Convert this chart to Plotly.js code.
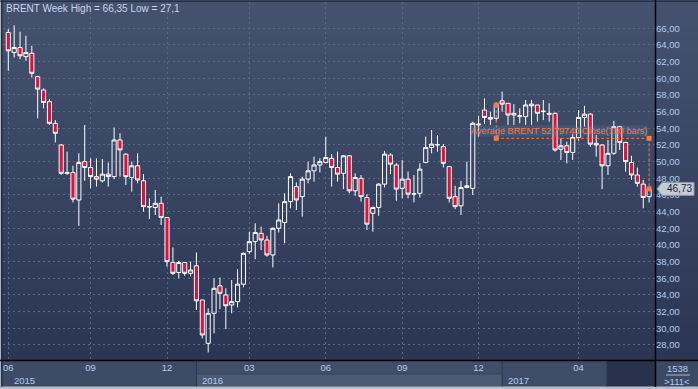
<!DOCTYPE html>
<html>
<head>
<meta charset="utf-8">
<script src="https://cdn.plot.ly/plotly-3.0.1.min.js"></script>
<style>
html,body{margin:0;padding:0;background:#2b3654;}
#chart{width:698px;height:389px;}
</style>
</head>
<body>
<div id="chart"></div>
<script>
// ---------------- DATA ----------------
const dates = [
 '2015-06-01','2015-06-08','2015-06-15','2015-06-22','2015-06-29','2015-07-06','2015-07-13','2015-07-20','2015-07-27','2015-08-03',
 '2015-08-10','2015-08-17','2015-08-24','2015-08-31','2015-09-07','2015-09-14','2015-09-21','2015-09-28','2015-10-05','2015-10-12',
 '2015-10-19','2015-10-26','2015-11-02','2015-11-09','2015-11-16','2015-11-23','2015-11-30','2015-12-07','2015-12-14','2015-12-21',
 '2015-12-28','2015-12-31','2016-01-04','2016-01-11','2016-01-18','2016-01-25','2016-02-01','2016-02-08','2016-02-15','2016-02-22',
 '2016-02-29','2016-03-07','2016-03-14','2016-03-21','2016-03-28','2016-04-04','2016-04-11','2016-04-18','2016-04-25','2016-05-02',
 '2016-05-09','2016-05-16','2016-05-23','2016-05-30','2016-06-06','2016-06-13','2016-06-20','2016-06-27','2016-07-04','2016-07-11',
 '2016-07-18','2016-07-25','2016-08-01','2016-08-08','2016-08-15','2016-08-22','2016-08-29','2016-09-05','2016-09-12','2016-09-19',
 '2016-09-26','2016-10-03','2016-10-10','2016-10-17','2016-10-24','2016-10-31','2016-11-07','2016-11-14','2016-11-21','2016-11-28',
 '2016-12-05','2016-12-12','2016-12-19','2016-12-26','2017-01-02','2017-01-09','2017-01-16','2017-01-23','2017-01-30','2017-02-06',
 '2017-02-13','2017-02-20','2017-02-27','2017-03-06','2017-03-13','2017-03-20','2017-03-27','2017-04-03','2017-04-10','2017-04-17',
 '2017-04-24','2017-05-01','2017-05-08','2017-05-15','2017-05-22','2017-05-29','2017-06-05','2017-06-12','2017-06-19','2017-06-26'
];
const open = [
 65.5,63.1,63.7,62.6,63.0,60.2,58.6,57.2,54.6,52.0,
 48.6,48.7,45.4,50.0,49.3,48.2,47.7,48.5,48.2,52.6,
 50.9,48.1,49.5,47.7,44.55,44.5,45.0,43.3,37.9,36.7,
 37.9,36.6,37.5,33.4,28.2,31.8,35.1,34.0,32.8,33.2,
 35.3,39.2,40.4,41.4,40.6,38.8,42.0,42.7,45.2,47.0,
 45.8,47.9,48.9,49.6,49.9,50.4,49.3,48.6,50.7,46.5,
 48.0,45.7,43.8,44.5,47.3,50.8,49.6,46.8,47.9,46.1,
 46.2,49.9,51.7,52.0,51.8,49.4,45.8,44.7,46.9,46.8,
 54.4,56.2,55.3,55.2,57.3,57.0,55.6,55.4,55.4,56.9,
 56.8,56.0,55.8,55.8,51.5,51.9,51.1,52.9,55.3,55.7,
 52.2,52.0,49.5,51.0,54.2,52.3,49.9,48.4,47.3,45.8
];
const high = [
 65.9,66.35,65.6,65.1,63.9,60.3,58.8,57.5,55.0,52.1,
 51.2,49.5,51.0,54.4,50.4,50.4,50.3,49.9,54.1,53.4,
 51.0,50.0,51.0,48.5,45.6,46.6,45.8,43.3,39.7,38.1,
 37.9,38.0,39.1,33.4,32.4,36.0,36.1,34.8,35.8,37.1,
 39.1,41.6,42.6,42.2,41.1,42.1,45.0,46.2,48.6,47.5,
 48.2,50.0,50.6,50.4,53.0,50.9,51.2,50.8,50.8,48.6,
 48.4,46.1,44.6,47.4,51.3,51.0,49.8,50.2,48.8,48.4,
 49.8,53.0,53.8,53.2,52.1,49.5,47.1,47.7,50.0,54.8,
 55.5,57.6,56.0,57.1,58.4,57.0,56.9,56.4,57.4,57.4,
 56.8,57.4,57.0,55.9,52.8,52.4,53.3,56.2,56.7,55.8,
 53.2,52.1,52.6,54.9,54.3,52.4,50.7,49.3,47.8,46.9
];
const low = [
 60.9,62.5,62.3,62.1,60.1,55.2,56.4,54.4,52.3,48.4,
 48.4,45.1,42.3,47.7,46.8,47.0,47.5,47.0,47.9,48.2,
 47.2,46.4,47.4,44.0,43.1,43.6,42.4,37.4,36.4,36.0,
 36.3,36.2,32.2,28.8,27.1,29.4,32.3,29.9,31.8,32.5,
 34.9,38.9,38.3,39.4,38.6,37.3,41.5,40.2,44.4,44.2,
 43.4,47.4,47.6,48.7,49.8,47.0,47.6,46.7,46.2,45.9,
 45.2,41.8,41.6,43.5,46.9,48.5,45.3,45.6,45.6,45.1,
 45.7,49.8,51.0,51.2,49.3,45.1,44.3,43.6,46.8,46.0,
 53.0,54.5,54.4,54.9,56.0,54.4,54.4,54.6,54.4,54.4,
 54.8,55.0,54.8,51.2,50.2,49.8,50.2,52.5,54.2,51.8,
 50.6,46.7,48.4,50.8,51.4,48.8,47.8,47.0,44.4,45.1
];
const close = [
 63.3,63.7,62.7,63.1,60.6,58.7,57.1,54.6,53.4,48.6,
 48.7,45.5,49.9,49.3,48.2,47.9,48.5,48.2,52.6,51.4,
 48.2,49.5,47.8,44.6,44.6,45.0,43.3,38.0,36.6,37.9,
 36.6,37.0,33.3,29.2,31.8,34.8,34.2,32.7,33.2,35.3,
 39.0,40.4,41.5,40.6,38.8,42.0,43.0,45.2,48.2,45.4,
 47.9,48.9,49.6,50.0,50.5,49.3,48.5,50.7,46.5,48.1,
 45.8,42.5,44.5,47.3,50.9,49.7,46.7,47.9,46.1,46.15,
 49.1,51.7,52.1,52.05,49.8,45.6,44.6,46.9,47.1,54.6,
 54.5,55.3,55.1,56.8,56.9,55.6,55.8,55.5,56.8,56.7,
 55.8,56.05,55.7,51.4,51.9,51.1,52.9,55.3,55.7,52.1,
 52.0,49.5,51.0,54.2,52.3,50.0,48.4,47.4,45.7,46.73
];
const monthTickDates = ['2015-06-01','2015-09-07','2015-12-07','2016-03-07','2016-06-06','2016-09-05','2016-12-05','2017-04-03'];
const monthTickLabels = ['06','09','12','03','06','09','12','04'];
const yearStartDates = ['2015-06-01','2016-01-04','2017-01-02'];
const yearLabels = ['2015','2016','2017'];
const priceTicks = [28,30,32,34,36,38,40,42,44,46,48,50,52,54,56,58,60,62,64,66];
const titleText = 'BRENT Week High = 66,35 Low = 27,1';
const avgValue = 52.79740;
const avgText = 'Average BRENT 52,79740 Close(150 bars)';
const avgStartDate = '2016-12-26';
const barCountText = '1538';
const visibleText = '>111<';

// ---------------- GEOMETRY / STYLE ----------------
const W = 698, H = 389;
const L = 3, R = 43, T = 2, B = 29;
const PW = W - L - R, PH = H - T - B;
const yMin = 26.196, yMax = 69.156;
const xMin = -0.9, xMax = 110.0;
function xp(px){ return (px - L) / PW; }
function yp(py){ return (T + PH - py) / PH; }
function yv(v){ return (v - yMin) / (yMax - yMin); }

const idx = dates.map((d, i) => i);
const monthTickIdx = monthTickDates.map(d => dates.indexOf(d));
const yearIdx = yearStartDates.map(d => dates.indexOf(d));
function xPix(i){ return L + (i - xMin) / (xMax - xMin) * PW; }

const labelColor = '#b0ccf0';
const font = 'Liberation Sans, Arial, sans-serif';

const shapes = [];
// background gradient
const gTop = [68, 82, 112], gBot = [43, 54, 84];
const nBands = 40;
for (let k = 0; k < nBands; k++) {
  const t = k / (nBands - 1);
  const c = gTop.map((a, j) => Math.round(a + (gBot[j] - a) * t));
  const py0 = k * (T + PH) / nBands, py1 = (k + 1) * (T + PH) / nBands + 0.5;
  shapes.push({type:'rect', xref:'paper', yref:'paper', layer:'below',
    x0: xp(0), x1: xp(W), y0: yp(py1), y1: yp(py0),
    fillcolor:`rgb(${c[0]},${c[1]},${c[2]})`, line:{width:0}});
}
function rectPx(x0, y0, x1, y1, fill){
  shapes.push({type:'rect', xref:'paper', yref:'paper', layer:'below',
    x0: xp(x0), x1: xp(x1), y0: yp(y1), y1: yp(y0), fillcolor: fill, line:{width:0}});
}
function linePx(x0, y0, x1, y1, color, w){
  shapes.push({type:'line', xref:'paper', yref:'paper', layer:'above',
    x0: xp(x0), x1: xp(x1), y0: yp(y0), y1: yp(y1), line:{color: color, width: w}});
}
const seg2016 = xPix(yearIdx[1]), seg2017 = xPix(yearIdx[2]);
rectPx(0, 360, W, 389, '#3d4a66');
rectPx(0, 361, seg2016, 386.5, '#3e4b67');
rectPx(seg2016, 361, seg2017, 374, '#404e6a');
rectPx(seg2016, 374, seg2017, 386.5, '#4c5a76');
rectPx(seg2017, 361, 607, 386.5, '#3f4c68');
rectPx(607, 361, 655.5, 386.5, '#28324b');
rectPx(656, 361, W, 386.5, '#3c4965');
rectPx(0, 386.5, W, 389, '#b8bfca');
linePx(seg2016, 361, seg2016, 386.5, '#2c3650', 1);
linePx(seg2017, 361, seg2017, 386.5, '#2c3650', 1);
linePx(seg2016, 374, seg2017, 374, '#36425d', 1);
linePx(607, 361, 607, 386.5, '#2c3650', 1);
linePx(666, 375, 690, 375, '#a8b8d0', 1);
// frame
linePx(0, 360.5, W, 360.5, '#000000', 1.5);
linePx(655.5, 0, 655.5, 387, '#000000', 1.5);
linePx(0, 1.2, W, 1.2, '#1c2233', 1);
rectPx(0, 0, 1.3, 389, '#aab2c0');
linePx(1.8, 0, 1.8, 387, '#141a28', 1);

// price tag for last close
const lastClose = close[close.length - 1];
const tagY = yv(lastClose), th = 6.5 / PH;
shapes.push({type:'path', xref:'paper', yref:'paper', layer:'above',
  path: `M ${xp(657)} ${tagY} L ${xp(662)} ${tagY + th} L ${xp(694)} ${tagY + th} L ${xp(694)} ${tagY - th} L ${xp(662)} ${tagY - th} Z`,
  fillcolor:'#c6cbd4', line:{color:'#8e96a4', width:1}});

// average tool
const avgIdx = dates.indexOf(avgStartDate);
const lastIdx = dates.length - 1;
const orange = '#f27b4b';
shapes.push({type:'line', xref:'x', yref:'y', x0: avgIdx, x1: avgIdx, y0: close[avgIdx], y1: avgValue, line:{color: orange, width:1, dash:'3px,2px'}});
shapes.push({type:'line', xref:'x', yref:'y', x0: avgIdx, x1: lastIdx, y0: avgValue, y1: avgValue, line:{color: orange, width:1, dash:'3px,2px'}});
shapes.push({type:'line', xref:'x', yref:'y', x0: lastIdx, x1: lastIdx, y0: avgValue, y1: lastClose, line:{color: orange, width:1, dash:'3px,2px'}});

const annotations = [];
annotations.push({xref:'paper', yref:'paper', x: xp(4), y: yp(8), xanchor:'left', yanchor:'middle', showarrow:false,
  text: titleText, font:{family: font, size: 10, color:'#c9d6ec'}});
yearLabels.forEach((t, k) => {
  const px = k === 0 ? 12 : xPix(yearIdx[k]) + 4;
  annotations.push({xref:'paper', yref:'paper', x: xp(px), y: yp(380.5), xanchor:'left', yanchor:'middle', showarrow:false,
    text: t, font:{family: font, size: 9.5, color: labelColor}});
});
annotations.push({xref:'paper', yref:'paper', x: xp(677), y: yp(368.5), xanchor:'center', yanchor:'middle', showarrow:false,
  text: barCountText, font:{family: font, size: 9.5, color: labelColor}});
annotations.push({xref:'paper', yref:'paper', x: xp(677), y: yp(381), xanchor:'center', yanchor:'middle', showarrow:false,
  text: visibleText, font:{family: font, size: 9.5, color: labelColor}});
annotations.push({xref:'paper', yref:'y', x: xp(679), y: lastClose, xanchor:'center', yanchor:'middle', showarrow:false,
  text: lastClose.toFixed(2).replace('.', ','), font:{family: font, size: 10, color:'#1a2233'}});
annotations.push({xref:'x', yref:'y', x: avgIdx - 4.4, y: avgValue + 0.85, xanchor:'left', yanchor:'middle', showarrow:false,
  text: avgText, font:{family: font, size: 9.2, color: orange}, bgcolor:'rgba(120,130,150,0.22)', borderpad: 0});

const traces = [
  {type:'candlestick', x: idx, open: open, high: high, low: low, close: close, text: dates, hoverinfo:'text',
   whiskerwidth: 0,
   increasing:{line:{color:'#ffffff', width:1}, fillcolor:'rgba(0,0,0,0)'},
   decreasing:{line:{color:'#ffffff', width:1}, fillcolor:'#e0103c'},
   showlegend:false},
  {type:'scatter', mode:'markers', x:[avgIdx, avgIdx, lastIdx, lastIdx], y:[close[avgIdx], avgValue, avgValue, lastClose],
   marker:{symbol:'square', size:5, color: orange}, hoverinfo:'skip', showlegend:false, cliponaxis:false}
];

const layout = {
  width: W, height: H,
  margin:{l: L, r: R, t: T, b: B, pad: 0},
  paper_bgcolor:'#2b3654', plot_bgcolor:'rgba(0,0,0,0)',
  separators: ', ',
  showlegend:false,
  boxgap: 0.3, boxgroupgap: 0,
  xaxis:{range:[xMin, xMax], fixedrange:true, rangeslider:{visible:false},
    tickmode:'array', tickvals: monthTickIdx, ticktext: monthTickLabels, ticks:'',
    tickfont:{family: font, size: 9.5, color: labelColor},
    showgrid:true, gridcolor:'#5a6886', griddash:'2px,3px', gridwidth:1, zeroline:false, showline:false},
  yaxis:{range:[yMin, yMax], side:'right', fixedrange:true,
    tickmode:'array', tickvals: priceTicks, tickformat:'.2f', ticks:'',
    tickfont:{family: font, size: 9.5, color: labelColor},
    showgrid:true, gridcolor:'#5a6886', griddash:'2px,3px', gridwidth:1, zeroline:false, showline:false},
  shapes: shapes,
  annotations: annotations
};

Plotly.newPlot('chart', traces, layout, {staticPlot:true, displayModeBar:false});
</script>
</body>
</html>
